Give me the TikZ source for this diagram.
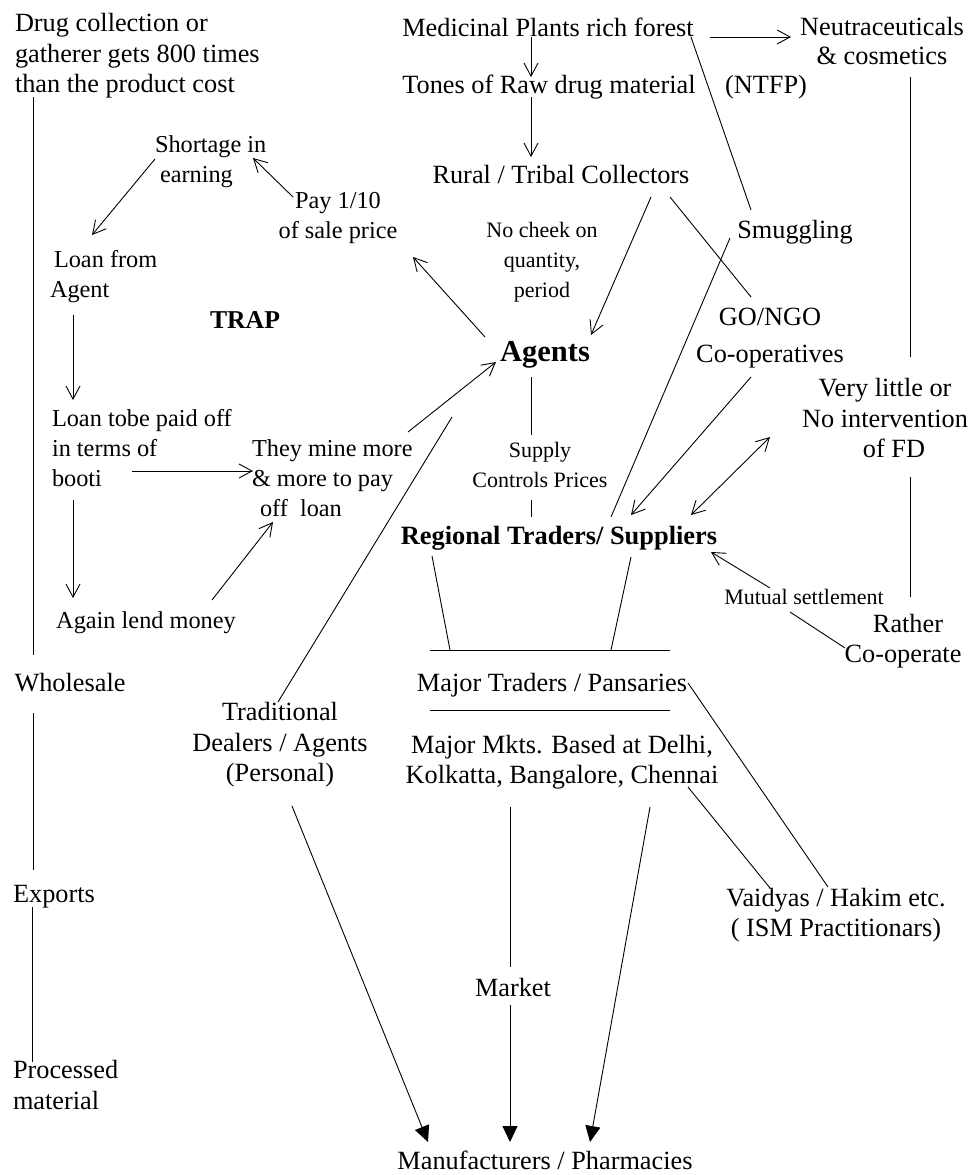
\documentclass[tikz,border=0pt]{standalone}
\usepackage{fontspec}
\setmainfont{Liberation Serif}
\usepackage{tikz}
\usetikzlibrary{calc,arrows.meta}

\newcommand{\mainsize}{\fontsize{26.3}{30.5}\selectfont}
\newcommand{\loopsize}{\fontsize{24.3}{30}\selectfont}
\newcommand{\smallsize}{\fontsize{22}{30}\selectfont}

\tikzset{
    txt/.style={inner sep=0pt, outer sep=0pt, font=\mainsize, align=center},
    looptxt/.style={txt, font=\loopsize, align=left, anchor=west},
    smalltxt/.style={txt, font=\smallsize},
    link/.style={line width=0.9pt},
    barb/.tip={Straight Barb[length=13pt,width=14pt,line width=0.9pt]},
    openarr/.style={link, -barb},
    bothopen/.style={link, barb-barb},
    fillarr/.style={link, -{Triangle[length=16pt,width=15pt]}},
}

\begin{document}
\begin{tikzpicture}[x=1pt,y=-1pt]
    \useasboundingbox (0,0) rectangle (968,1175);
    % 
    % left column
    \node[txt, align=left, anchor=west] (drug) at (15,56)
        {Drug collection or\\gatherer gets 800 times\\than the product cost};
    \node[txt] (wholesale) at (70,683) {Wholesale};
    \node[txt] (exports) at (54,897) {Exports};
    \node[txt, align=left, anchor=west] (processed) at (13,1085) {Processed\\material};
    % 
    % top
    \node[txt] (medicinal) at (548,27) {Medicinal Plants rich forest};
    \node[txt] (neutra) at (882,41) {Neutraceuticals\\[-2pt]\& cosmetics};
    \node[txt] (tones) at (549,87) {Tones of Raw drug material};
    \node[txt] (ntfp) at (766,87) {(NTFP)};
    \node[txt] (rural) at (561,175) {Rural / Tribal Collectors};
    \node[txt] (smuggling) at (795,232) {Smuggling};
    \node[smalltxt] (nocheck) at (542,262) {No cheek on\\quantity,\\period};
    % 
    % the trap
    \node[looptxt] (shortage) at (155,162) {Shortage in\\\hspace*{5pt}earning};
    \node[looptxt, align=center, anchor=center] (pay) at (338,218) {Pay 1/10\\of sale price};
    \node[looptxt] (loanfrom) at (50,277) {\hspace*{4pt}Loan from\\Agent};
    \node[txt, font=\bfseries\fontsize{25.7}{30}\selectfont] (trap) at (245,320) {TRAP};
    \node[looptxt] (loantobe) at (52,448) {Loan tobe paid off\\in terms of\\booti};
    \node[looptxt] (theymine) at (252,478) {They mine more\\\& more to pay\\\hspace*{8pt}off\ \ loan};
    \node[looptxt, anchor=center] (again) at (146,623) {Again lend money};
    % 
    % middle
    \node[txt, font=\bfseries\fontsize{30.5}{34}\selectfont] (agents) at (545,355) {Agents};
    \node[txt] (gongo) at (770,338) {GO/NGO\\[6pt]Co-operatives};
    \node[smalltxt] (supply) at (540,465) {Supply\\Controls Prices};
    \node[txt, font=\bfseries\fontsize{26.4}{30}\selectfont] (regional) at (559,538) {Regional Traders/ Suppliers};
    \node[txt] (verylittle) at (885,418) {Very little or\\No intervention\\\hspace*{18pt}of FD};
    \node[smalltxt] (mutual) at (804,597) {Mutual settlement};
    \node[txt] (rather) at (903,641) {\hspace*{10pt}Rather\\Co-operate};
    \node[txt] (pansaries) at (552,685) {Major Traders / Pansaries};
    % 
    % bottom
    \node[txt] (traditional) at (280,745) {Traditional\\Dealers / Agents\\(Personal)};
    \node[txt] (majormkts) at (562,762) {Major Mkts. Based at Delhi,\\Kolkatta, Bangalore, Chennai};
    \node[txt] (vaidyas) at (836,915) {Vaidyas / Hakim etc.\\( ISM Practitionars)};
    \node[txt] (market) at (513,987) {Market};
    \node[txt] (manufacturers) at (545,1160) {Manufacturers / Pharmacies};
    % 
    % left column lines
    \draw[link] ($(drug.west)+(18,41)$) -- ($(wholesale)+(-37,-28)$);
    \draw[link] ($(wholesale)+(-37,30)$) -- ($(exports)+(-21,-27)$);
    \draw[link] ($(exports)+(-22,10)$) -- ($(processed.west)+(19,-23)$);
    % 
    % top connectors
    \draw[openarr] ($(medicinal)+(162,10)$) -- ($(neutra)+(-91,-4)$);
    \draw[openarr] ($(medicinal)+(-17,10)$) -- ($(tones)+(-18,-10)$);
    \draw[openarr] ($(tones)+(-18,10)$) -- ($(rural)+(-30,-18)$);
    \draw[link] ($(medicinal)+(143,10)$) -- ($(smuggling)+(-44,-22)$);
    \draw[openarr] ($(rural)+(90,22)$) -- ($(agents)+(46,-20)$);
    \draw[link] ($(rural)+(109,22)$) -- ($(gongo)+(-19,-41)$);
    \draw[link] ($(smuggling)+(-65,6)$) -- ($(regional)+(52,-21)$);
    \draw[openarr] ($(gongo)+(-19,39)$) -- ($(regional)+(72,-23)$);
    \draw[bothopen] ($(regional)+(132,-23)$) -- ($(verylittle)+(-115,19)$);
    \draw[link] ($(neutra)+(28,36)$) -- ($(verylittle)+(25,-61)$);
    \draw[link] ($(verylittle)+(25,59)$) -- ($(rather)+(7,-44)$);
    \draw[link] ($(rather)+(-58,7)$) -- ($(mutual)+(-14,15)$);
    \draw[openarr] ($(mutual)+(-34,-9)$) -- ($(regional)+(152,14)$);
    \draw[link] ($(agents)+(-14,22)$) -- ($(supply)+(-9,-30)$);
    \draw[link] ($(supply)+(-9,35)$) -- ($(regional)+(-28,-21)$);
    % 
    % traders bars
    \draw[link] ($(pansaries)+(-122,-35)$) -- ($(pansaries)+(118,-35)$);
    \draw[link] ($(pansaries)+(-122,25)$) -- ($(pansaries)+(118,25)$);
    \draw[link] ($(regional)+(-127,18)$) -- ($(pansaries)+(-102,-35)$);
    \draw[link] ($(regional)+(72,19)$) -- ($(pansaries)+(59,-35)$);
    % 
    % the trap loop
    \draw[openarr] ($(agents)+(-60,-18)$) -- ($(pay)+(75,39)$);
    \draw[openarr] ($(pay)+(-45,-21)$) -- ($(shortage.west)+(98,-4)$);
    \draw[openarr] ($(shortage.west)+(0,-3)$) -- ($(loanfrom.west)+(42,-42)$);
    \draw[openarr] ($(loanfrom.west)+(23,38)$) -- ($(loantobe.west)+(21,-48)$);
    \draw[openarr] ($(loantobe.west)+(80,23)$) -- ($(theymine.west)+(1,-7)$);
    \draw[openarr] ($(loantobe.west)+(21,52)$) -- ($(again)+(-73,-25)$);
    \draw[openarr] ($(again)+(66,-23)$) -- ($(theymine.west)+(21,44)$);
    \draw[openarr] ($(theymine.west)+(156,-46)$) -- ($(agents)+(-49,7)$);
    % 
    % bottom connectors
    \draw[link] ($(traditional)+(-2,-43)$) -- ($(agents)+(-93,62)$);
    \draw[fillarr] ($(traditional)+(12,61)$) -- ($(manufacturers)+(-117,-18)$);
    \draw[link] ($(majormkts)+(-52,45)$) -- ($(market)+(-3,-20)$);
    \draw[fillarr] ($(market)+(-3,18)$) -- ($(manufacturers)+(-35,-18)$);
    \draw[fillarr] ($(majormkts)+(88,45)$) -- ($(manufacturers)+(45,-18)$);
    \draw[link] ($(majormkts)+(126,25)$) -- ($(vaidyas)+(-66,-27)$);
    \draw[link] ($(pansaries)+(136,-2)$) -- ($(vaidyas)+(-8,-28)$);

\end{tikzpicture}
\end{document}
